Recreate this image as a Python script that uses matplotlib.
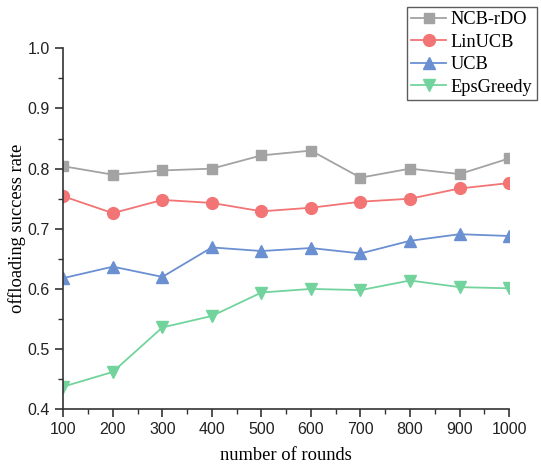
import numpy as np
import matplotlib.pyplot as plt
from matplotlib.ticker import MultipleLocator

rounds = [100, 200, 300, 400, 500, 600, 700, 800, 900, 1000]
ncb_rdo = [0.804, 0.790, 0.797, 0.800, 0.822, 0.830, 0.785, 0.800, 0.791, 0.817]
linucb = [0.754, 0.726, 0.748, 0.743, 0.729, 0.735, 0.745, 0.750, 0.767, 0.776]
ucb = [0.618, 0.637, 0.620, 0.669, 0.663, 0.668, 0.659, 0.680, 0.691, 0.688]
eps_greedy = [0.4375, 0.462, 0.536, 0.555, 0.594, 0.600, 0.598, 0.614, 0.603, 0.601]

series = [
	("NCB-rDO", ncb_rdo, "#a3a3a3", "s", 7.5),
	("LinUCB", linucb, "#f27474", "o", 8.5),
	("UCB", ucb, "#6a90d2", "^", 9),
	("EpsGreedy", eps_greedy, "#72d49c", "v", 9),
]

fig = plt.figure(figsize=(5.41, 4.65), dpi=100)
ax = fig.add_axes([0.117, 0.12, 0.824, 0.776])

for name, vals, col, mk, ms in series:
	ax.plot(rounds, vals, color=col, marker=mk, markersize=ms, linewidth=1.3, label=name)

ax.set_xlim(100, 1000)
ax.set_ylim(0.4, 1.0)
ax.xaxis.set_major_locator(MultipleLocator(100))
ax.xaxis.set_minor_locator(MultipleLocator(50))
ax.yaxis.set_major_locator(MultipleLocator(0.1))
ax.yaxis.set_minor_locator(MultipleLocator(0.05))
ax.yaxis.set_major_formatter(plt.FuncFormatter(lambda v, p: "%.1f" % v))

for s in ["top", "right"]:
	ax.spines[s].set_visible(False)
for s in ["left", "bottom"]:
	ax.spines[s].set_linewidth(1.2)
	ax.spines[s].set_color("#333333")

ax.tick_params(which="major", direction="out", length=6, width=1.2, color="#333333",
	labelsize=11.5, labelcolor="#222222")
ax.tick_params(which="minor", direction="out", length=3.5, width=1.0, color="#333333")
for lab in ax.get_xticklabels() + ax.get_yticklabels():
	lab.set_fontfamily("Liberation Sans")

ax.set_xlabel("number of rounds", fontfamily="Liberation Serif", fontsize=13.3, labelpad=7)
ax.set_ylabel("offloading success rate", fontfamily="Liberation Serif", fontsize=13.3, labelpad=1)

leg = fig.legend(loc="upper right", bbox_to_anchor=(0.993, 0.986), frameon=True,
	prop={"family": "Liberation Serif", "size": 13.2}, handlelength=1.9,
	borderpad=0.25, labelspacing=0.3, handletextpad=0.25, fancybox=False, borderaxespad=0)
leg.get_frame().set_edgecolor("#333333")
leg.get_frame().set_linewidth(1.0)

fig.savefig("out.png", dpi=100)
